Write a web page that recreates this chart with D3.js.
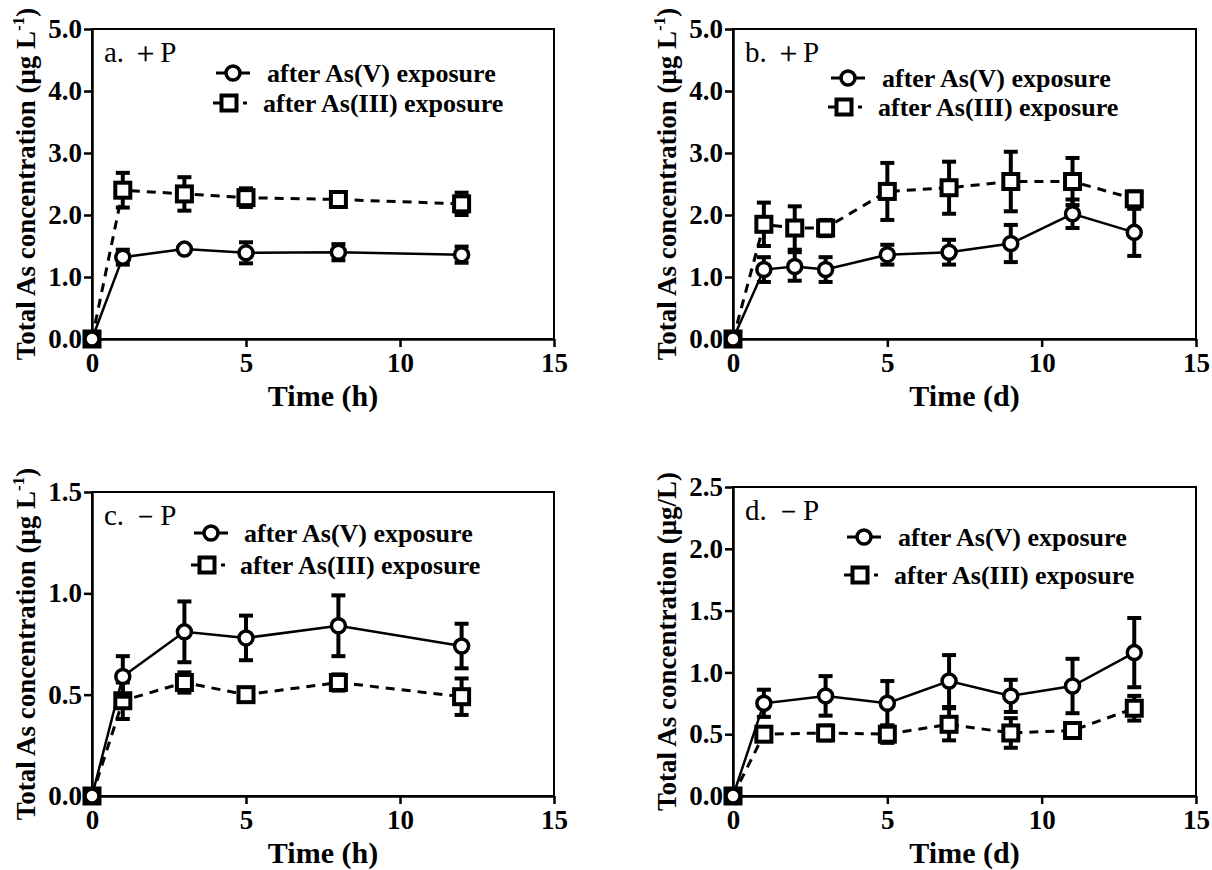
<!DOCTYPE html>
<html>
<head>
<meta charset="utf-8">
<script src="https://cdn.jsdelivr.net/npm/d3@7"></script>
<style>
  body { margin: 0; background: #fff; }
  svg, svg text { font-family: "Liberation Serif", "DejaVu Serif", serif !important; }
</style>
</head>
<body>
<svg id="chart"></svg>
<script>
// panel a: +P, hours
const hoursA = [0, 1, 3, 5, 8, 12];
const aAsV = [0, 1.32, 1.45, 1.39, 1.40, 1.36];
const aAsVErr = [0, 0.12, 0.04, 0.17, 0.13, 0.13];
const aAsIII = [0, 2.40, 2.34, 2.28, 2.25, 2.18];
const aAsIIIErr = [0, 0.28, 0.27, 0.15, 0.12, 0.18];

// panel b: +P, days
const daysB = [0, 1, 2, 3, 5, 7, 9, 11, 13];
const bAsV = [0, 1.12, 1.17, 1.12, 1.36, 1.40, 1.54, 2.02, 1.72];
const bAsVErr = [0, 0.20, 0.23, 0.20, 0.16, 0.20, 0.30, 0.23, 0.38];
const bAsIII = [0, 1.85, 1.79, 1.79, 2.38, 2.44, 2.54, 2.54, 2.26];
const bAsIIIErr = [0, 0.35, 0.35, 0.13, 0.46, 0.42, 0.48, 0.38, 0.12];

// panel c: -P, hours
const hoursC = [0, 1, 3, 5, 8, 12];
const cAsV = [0, 0.59, 0.81, 0.78, 0.84, 0.74];
const cAsVErr = [0, 0.10, 0.15, 0.11, 0.15, 0.11];
const cAsIII = [0, 0.47, 0.56, 0.50, 0.56, 0.49];
const cAsIIIErr = [0, 0.09, 0.05, 0.02, 0.04, 0.09];

// panel d: -P, days
const daysD = [0, 1, 3, 5, 7, 9, 11, 13];
const dAsV = [0, 0.75, 0.81, 0.75, 0.93, 0.81, 0.89, 1.16];
const dAsVErr = [0, 0.11, 0.16, 0.18, 0.21, 0.13, 0.22, 0.28];
const dAsIII = [0, 0.50, 0.51, 0.50, 0.58, 0.51, 0.53, 0.71];
const dAsIIIErr = [0, 0.04, 0.06, 0.07, 0.13, 0.12, 0.06, 0.10];

const xTicks = [0, 5, 10, 15];
const yTicksPlus = [0, 1, 2, 3, 4, 5];
const yTicksC = [0, 0.5, 1.0, 1.5];
const yTicksD = [0, 0.5, 1.0, 1.5, 2.0, 2.5];
const legendLabels = ["after As(V) exposure", "after As(III) exposure"];

const FONT = "'Liberation Serif', 'DejaVu Serif', serif";

const svg = d3.select("#chart").attr("width", 1212).attr("height", 870)
  .attr("font-family", FONT);

const panels = [
  { x: hoursA, v: aAsV, ve: aAsVErr, iii: aAsIII, iiie: aAsIIIErr, yMax: 5, yTicks: yTicksPlus,
    left: 92, top: 29, right: 554, bottom: 339, tag: "a. ＋P", xTitle: "Time (h)", unit: "L1",
    leg: { sx: 233, tx: 267, y1: 73, y2: 103 } },
  { x: daysB, v: bAsV, ve: bAsVErr, iii: bAsIII, iiie: bAsIIIErr, yMax: 5, yTicks: yTicksPlus,
    left: 733, top: 29, right: 1196, bottom: 339, tag: "b. ＋P", xTitle: "Time (d)", unit: "L1",
    leg: { sx: 848, tx: 882, y1: 78, y2: 107 } },
  { x: hoursC, v: cAsV, ve: cAsVErr, iii: cAsIII, iiie: cAsIIIErr, yMax: 1.5, yTicks: yTicksC,
    left: 92, top: 492, right: 554, bottom: 796, tag: "c. －P", xTitle: "Time (h)", unit: "L1",
    leg: { sx: 211, tx: 244, y1: 533, y2: 565 } },
  { x: daysD, v: dAsV, ve: dAsVErr, iii: dAsIII, iiie: dAsIIIErr, yMax: 2.5, yTicks: yTicksD,
    left: 733, top: 487, right: 1196, bottom: 796, tag: "d. －P", xTitle: "Time (d)", unit: "slash",
    leg: { sx: 864, tx: 898, y1: 537, y2: 575 } }
];

function drawMarker(g, type, cx, cy) {
  if (type === "circle") {
    g.append("circle").attr("cx", cx).attr("cy", cy).attr("r", 7)
      .attr("fill", "#fff").attr("stroke", "#000").attr("stroke-width", 3.5);
  } else {
    g.append("rect").attr("x", cx - 7.5).attr("y", cy - 7.5).attr("width", 15).attr("height", 15)
      .attr("fill", "#fff").attr("stroke", "#000").attr("stroke-width", 4);
  }
}

panels.forEach(p => {
  const g = svg.append("g");
  const xScale = d3.scaleLinear().domain([0, 15]).range([p.left, p.right]);
  const yScale = d3.scaleLinear().domain([0, p.yMax]).range([p.bottom, p.top]);

  // frame
  g.append("rect")
    .attr("x", p.left).attr("y", p.top)
    .attr("width", p.right - p.left).attr("height", p.bottom - p.top)
    .attr("fill", "none").attr("stroke", "#000").attr("stroke-width", 2);

  const xAxis = g.append("g")
    .attr("transform", `translate(0,${p.bottom})`)
    .call(d3.axisBottom(xScale).tickValues(xTicks).tickSize(8).tickSizeOuter(0).tickPadding(6));
  const yAxis = g.append("g")
    .attr("transform", `translate(${p.left},0)`)
    .call(d3.axisLeft(yScale).tickValues(p.yTicks).tickFormat(d3.format(".1f")).tickSize(8).tickSizeOuter(0).tickPadding(2));
  [xAxis, yAxis].forEach(ax => {
    ax.attr("font-family", FONT);
    ax.selectAll("path, line").attr("stroke", "#000").attr("stroke-width", 2.5);
    ax.selectAll("text").attr("fill", "#000").attr("font-size", 27).attr("font-weight", "bold");
  });

  // axis titles
  g.append("text")
    .attr("x", (p.left + p.right) / 2).attr("y", p.bottom + 67)
    .attr("text-anchor", "middle").attr("font-size", 30).attr("font-weight", "bold")
    .text(p.xTitle);

  const yt = g.append("text")
    .attr("transform", `translate(${p.left - 57},${(p.top + p.bottom) / 2}) rotate(-90)`)
    .attr("text-anchor", "middle").attr("font-size", 27).attr("font-weight", "bold");
  if (p.unit === "L1") {
    yt.append("tspan").text("Total As concentration (μg L");
    yt.append("tspan").attr("font-size", 17).attr("dy", -11).text("-1");
    yt.append("tspan").attr("dy", 11).text(")");
  } else {
    yt.text("Total As concentration (μg/L)");
  }

  // panel tag
  g.append("text")
    .attr("x", p.left + 12).attr("y", p.top + 33)
    .attr("font-size", 29)
    .text(p.tag);

  const pts = (xs, ys, es) => xs.map((d, i) => ({ x: d, y: ys[i], e: es[i] }));
  const series = [
    { data: pts(p.x, p.iii, p.iiie), type: "square", dash: "9,7", w: 3 },
    { data: pts(p.x, p.v, p.ve), type: "circle", dash: null, w: 2.5 }
  ];

  const line = d3.line().x(d => xScale(d.x)).y(d => yScale(d.y));

  series.forEach(s => {
    g.append("path")
      .datum(s.data)
      .attr("d", line)
      .attr("fill", "none").attr("stroke", "#000").attr("stroke-width", s.w)
      .attr("stroke-dasharray", s.dash);
  });

  series.forEach(s => {
    const eb = g.append("g").attr("stroke", "#000").attr("stroke-width", 4);
    s.data.filter(d => d.e > 0).forEach(d => {
      const cx = xScale(d.x);
      const y0 = yScale(d.y - d.e), y1 = yScale(d.y + d.e);
      eb.append("line").attr("x1", cx).attr("x2", cx).attr("y1", y0).attr("y2", y1);
      eb.append("line").attr("x1", cx - 7).attr("x2", cx + 7).attr("y1", y0).attr("y2", y0);
      eb.append("line").attr("x1", cx - 7).attr("x2", cx + 7).attr("y1", y1).attr("y2", y1);
    });
    s.data.forEach(d => drawMarker(g, s.type, xScale(d.x), yScale(d.y)));
  });

  // legend
  const L = p.leg;
  g.append("line").attr("x1", L.sx - 17).attr("x2", L.sx + 17).attr("y1", L.y1).attr("y2", L.y1)
    .attr("stroke", "#000").attr("stroke-width", 3);
  drawMarker(g, "circle", L.sx, L.y1);
  g.append("line").attr("x1", L.sx - 20).attr("x2", L.sx - 8).attr("y1", L.y2).attr("y2", L.y2)
    .attr("stroke", "#000").attr("stroke-width", 3);
  g.append("line").attr("x1", L.sx + 10).attr("x2", L.sx + 14).attr("y1", L.y2).attr("y2", L.y2)
    .attr("stroke", "#000").attr("stroke-width", 3);
  drawMarker(g, "square", L.sx - 4, L.y2);
  g.append("text").attr("x", L.tx).attr("y", L.y1).attr("dy", "0.35em")
    .attr("font-size", 26).attr("font-weight", "bold").text(legendLabels[0]);
  g.append("text").attr("x", L.tx - 4).attr("y", L.y2).attr("dy", "0.35em")
    .attr("font-size", 26).attr("font-weight", "bold").text(legendLabels[1]);
});
</script>
</body>
</html>
